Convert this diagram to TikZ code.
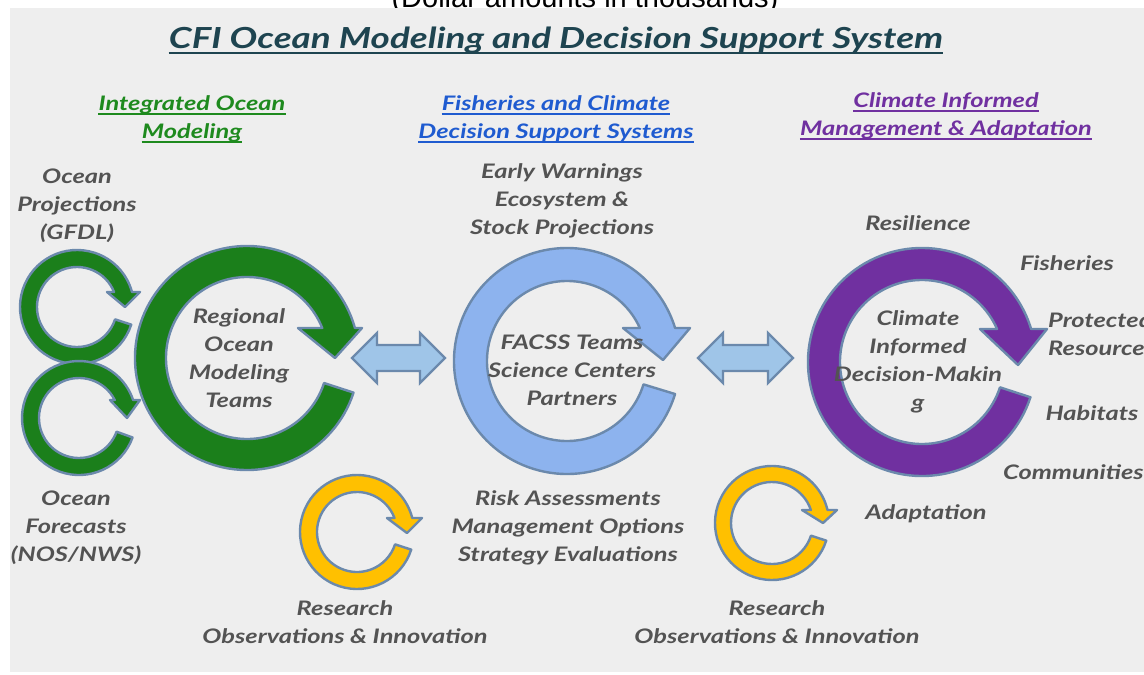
\documentclass[tikz,border=0pt]{standalone}
\usepackage{fontspec}
\setmainfont{Lato}[FakeStretch=1.27]
\newfontfamily\arialfont{Liberation Sans}
\usetikzlibrary{calc}
\definecolor{panel}{HTML}{EEEEEE}
\definecolor{txt}{HTML}{535353}
\definecolor{ttl}{HTML}{1E4450}
\definecolor{hgreen}{HTML}{1E8A1E}
\definecolor{hblue}{HTML}{1F5BD0}
\definecolor{hpurple}{HTML}{7030A0}
\definecolor{ringedge}{HTML}{6B89AC}
\definecolor{gfill}{HTML}{1B7F1B}
\definecolor{bfill}{HTML}{8DB3EE}
\definecolor{pfill}{HTML}{7030A0}
\definecolor{yfill}{HTML}{FFC000}
\definecolor{dafill}{HTML}{9FC5E8}
\tikzset{
  ring/.style={draw=ringedge, line width=2.4pt, line join=round},
  dbl/.style={draw=ringedge, line width=2.4pt, fill=dafill, line join=miter},
  lbl/.style={text=txt, font=\fontsize{20}{28}\selectfont\bfseries\itshape, align=center, inner sep=0pt},
  hdr/.style={font=\fontsize{20}{28}\selectfont\bfseries\itshape, inner sep=0pt, anchor=base},
}
% circular arrow: cx, cy, R, r, tail angle, head-base y, inner wing x, outer wing x, tip
\newcommand\cyc[9]{%
  \pgfmathsetmacro\cycbo{asin((#2-#6)/#3)}%
  \pgfmathsetmacro\cycbi{asin((#2-#6)/#4)}%
  \filldraw[ring, fill=\cycfill]
    ([shift={(#1,-#2)}]#5:#3pt) arc[start angle=#5, end angle=\cycbo-360, radius=#3pt]
    -- (#8,-#6) -- #9 -- (#7,-#6)
    -- ([shift={(#1,-#2)}]\cycbi:#4pt) arc[start angle=\cycbi, end angle=#5+360, radius=#4pt]
    -- cycle;}
\newcommand\darrow[2]{%
  \filldraw[dbl] (#1,-358) -- (#1+25,-333) -- (#1+25,-345) -- (#2-25,-345) -- (#2-25,-333) -- (#2,-358)
    -- (#2-25,-383) -- (#2-25,-371) -- (#1+25,-371) -- (#1+25,-383) -- cycle;}
% underlined header line: name, x, baseline y, colour, text
\newcommand\hdrline[5]{%
  \node[hdr, text=#4] (#1) at (#2,-#3) {#5};
  \draw[#4, line width=1.8pt] ([yshift=-4pt]#1.base west) -- ([yshift=-4pt]#1.base east);}
\begin{document}
\begin{tikzpicture}[x=1pt,y=1pt]
\useasboundingbox (0,0) rectangle (1144,-675);
\fill[white] (0,0) rectangle (1144,-675);
\node[anchor=base, inner sep=0pt, font=\arialfont\fontsize{29}{32}\selectfont] (dollar) at (585,-7) {(Dollar amounts in thousands)};
\fill[panel] (10,-8) rectangle (1144,-672);
% title
\node[inner sep=0pt, anchor=base, text=ttl, font=\fontsize{29}{34}\selectfont\bfseries\itshape] (title) at (556,-48)
  {CFI Ocean Modeling and Decision Support System};
\draw[ttl, line width=2.6pt] ([yshift=-5pt]title.base west) -- ([yshift=-5pt]title.base east);
% headers
\hdrline{h1a}{192}{110}{hgreen}{Integrated Ocean}
\hdrline{h1b}{192}{138}{hgreen}{Modeling}
\hdrline{h2a}{556}{110}{hblue}{Fisheries and Climate}
\hdrline{h2b}{556}{138}{hblue}{Decision Support Systems}
\hdrline{h3a}{946}{107}{hpurple}{Climate Informed}
\hdrline{h3b}{946}{135}{hpurple}{Management \& Adaptation}
% rings
\def\cycfill{gfill}
\cyc{77}{307}{57}{40}{-18}{292}{107}{140}{(125,-307)}
\cyc{79}{418}{57}{40}{-20}{400}{110}{140}{(127,-418)}
\cyc{247}{358}{112}{81}{-18}{328}{298}{362}{(335,-358)}
\def\cycfill{bfill}
\cyc{567}{361}{113}{80}{-17}{328}{623}{690}{(663,-360)}
\def\cycfill{pfill}
\cyc{922}{362}{114}{82}{-18}{329}{980}{1047}{(1018,-365)}
\def\cycfill{yfill}
\cyc{357}{532}{57}{40}{-18}{518}{387}{422}{(407,-533)}
\cyc{772}{523}{57}{41}{-18}{510}{802}{837}{(823,-523)}
% double arrows
\darrow{352}{445}
\darrow{698}{793}
% labels
\node[lbl] (oproj) at (77,-206) {Ocean\\Projections\\(GFDL)};
\node[lbl] (regional) at (239,-358) {Regional\\Ocean\\Modeling\\Teams};
\node[lbl] (ofore) at (76,-528) {Ocean\\Forecasts\\(NOS/NWS)};
\node[lbl] (early) at (562,-201) {Early Warnings\\Ecosystem \&\\Stock Projections};
\node[lbl] (facss) at (572,-370) {FACSS Teams\\Science Centers\\Partners};
\node[lbl] (risk) at (568,-528) {Risk Assessments\\Management Options\\Strategy Evaluations};
\node[lbl] (res1) at (345,-622) {Research\\Observations \& Innovation};
\node[lbl] (res2) at (777,-622) {Research\\Observations \& Innovation};
\node[lbl] (resil) at (918,-223) {Resilience};
\node[lbl] (fish) at (1067,-263) {Fisheries};
\node[lbl, anchor=west, align=left] (prot) at (1048,-334) {Protected\\Resources};
\node[lbl] (cidm) at (918,-362) {Climate\\Informed\\Decision-Makin\\g};
\node[lbl] (hab) at (1092,-413) {Habitats};
\node[lbl, anchor=west] (comm) at (1003,-472) {Communities};
\node[lbl] (adapt) at (926,-514) {Adaptation};
\end{tikzpicture}
\end{document}
